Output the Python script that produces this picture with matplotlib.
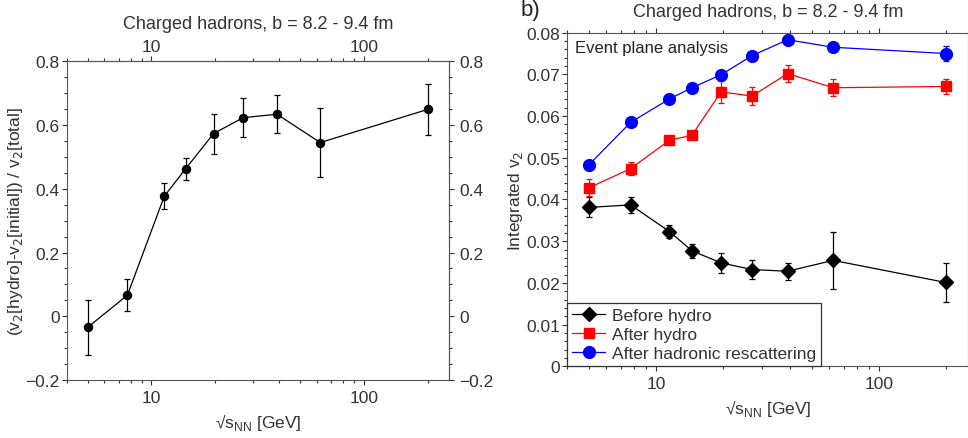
import matplotlib
matplotlib.use("Agg")
import matplotlib.pyplot as plt
from matplotlib.ticker import LogLocator, NullFormatter, MultipleLocator, FuncFormatter

plt.rcParams['font.family'] = ['Liberation Sans', 'DejaVu Sans']
plt.rcParams['text.color'] = '#333333'
plt.rcParams['axes.labelcolor'] = '#333333'
plt.rcParams['xtick.color'] = '#333333'
plt.rcParams['ytick.color'] = '#333333'
plt.rcParams['axes.edgecolor'] = '#555555'

# collision energies (GeV)
energies = [5, 7.7, 11.5, 14.5, 19.6, 27, 39, 62.4, 200]

# panel a: hydro fraction of v2
frac = [-0.035, 0.066, 0.377, 0.463, 0.573, 0.623, 0.634, 0.545, 0.649]
frac_err = [0.085, 0.050, 0.040, 0.034, 0.063, 0.061, 0.060, 0.108, 0.080]

# panel b: integrated v2
v2_before = [0.0381, 0.0387, 0.0323, 0.0277, 0.0248, 0.0232, 0.0228, 0.0254, 0.0201]
v2_before_err = [0.0024, 0.0020, 0.0016, 0.0017, 0.0024, 0.0023, 0.0020, 0.0069, 0.0047]
v2_hydro = [0.0428, 0.0474, 0.0542, 0.0554, 0.0658, 0.0648, 0.0702, 0.0668, 0.0671]
v2_hydro_err = [0.0020, 0.0015, 0.0008, 0.0008, 0.0026, 0.0022, 0.0020, 0.0020, 0.0018]
v2_resc = [0.0483, 0.0585, 0.0641, 0.0668, 0.0699, 0.0745, 0.0783, 0.0765, 0.0750]
v2_resc_err = [0.0006, 0.0006, 0.0006, 0.0006, 0.0006, 0.0006, 0.0006, 0.0006, 0.0018]

series_labels = ['Before hydro', 'After hydro', 'After hadronic rescattering']

title = 'Charged hadrons, b = 8.2 - 9.4 fm'
xlab = r'√s$_{\mathregular{NN}}$ [GeV]'
FS = 12.5

fig = plt.figure(figsize=(9.68, 4.39), dpi=100)
ax1 = fig.add_axes([0.0692, 0.1321, 0.3946, 0.726])
ax2 = fig.add_axes([0.586, 0.1633, 0.4143, 0.760])


def fmt_num(v, pos):
    if abs(v) < 1e-9:
        return '0'
    return ('%g' % v).replace('-', '\u2212')


def log_ticks(axis):
    axis.set_major_locator(LogLocator(base=10, numticks=10))
    axis.set_minor_locator(LogLocator(base=10, subs=range(2, 10), numticks=20))
    axis.set_minor_formatter(NullFormatter())
    axis.set_major_formatter(FuncFormatter(lambda v, p: '%d' % v))


def tick_len(ax, **kw):
    ax.tick_params(which='both', direction='out', labelsize=FS, **kw)
    ax.tick_params(which='major', length=3.8, width=0.8)
    ax.tick_params(which='minor', length=2.3, width=0.8)


# panel a
ax1.set_xscale('log')
ax1.set_xlim(4, 252)
log_ticks(ax1.xaxis)
ax1.errorbar(energies, frac, yerr=frac_err, color='black', marker='o',
             markersize=5.8, lw=0.9, elinewidth=0.9, capsize=2.3, capthick=0.9)
ax1.set_ylim(-0.2, 0.8)
ax1.yaxis.set_major_locator(MultipleLocator(0.2))
ax1.yaxis.set_minor_locator(MultipleLocator(0.05))
ax1.yaxis.set_major_formatter(FuncFormatter(fmt_num))
tick_len(ax1, top=False, right=False)
ax1.tick_params(axis='x', pad=3.5)
ax1.tick_params(axis='y', pad=1.5)

top1 = ax1.secondary_xaxis('top')
log_ticks(top1.xaxis)
tick_len(top1)
top1.tick_params(pad=1.2)

right1 = ax1.secondary_yaxis('right')
right1.yaxis.set_major_locator(MultipleLocator(0.2))
right1.yaxis.set_minor_locator(MultipleLocator(0.05))
right1.yaxis.set_major_formatter(FuncFormatter(fmt_num))
tick_len(right1)
right1.tick_params(pad=3.5)

ax1.set_xlabel(xlab, fontsize=FS, labelpad=4)
ax1.set_ylabel(r'(v$_2$[hydro]-v$_2$[initial]) / v$_2$[total]', fontsize=FS,
               labelpad=0.5)
ax1.set_title(title, fontsize=13, y=1.104, pad=0)

# panel b
ax2.set_xscale('log')
ax2.set_xlim(4, 252)
log_ticks(ax2.xaxis)
c1 = ax2.errorbar(energies, v2_before, yerr=v2_before_err, color='black', marker='D',
                  markersize=6.7, lw=0.9, elinewidth=0.9, capsize=2.3, capthick=0.9)
c2 = ax2.errorbar(energies, v2_hydro, yerr=v2_hydro_err, color='red', marker='s',
                  markersize=7, lw=0.9, elinewidth=0.9, capsize=2.3, capthick=0.9)
c3 = ax2.errorbar(energies, v2_resc, yerr=v2_resc_err, color='blue', marker='o',
                  markersize=8.5, lw=0.9, elinewidth=0.9, capsize=2.3, capthick=0.9)
ax2.set_ylim(0, 0.08)
ax2.yaxis.set_major_locator(MultipleLocator(0.01))
ax2.yaxis.set_minor_locator(MultipleLocator(0.002))
ax2.yaxis.set_major_formatter(FuncFormatter(fmt_num))
tick_len(ax2, top=True, right=True, labeltop=False, labelright=False)
ax2.tick_params(axis='x', pad=3.5)
ax2.tick_params(axis='y', pad=1.5)
ax2.set_xlabel(xlab, fontsize=FS, labelpad=4)
ax2.set_ylabel(r'Integrated v$_2$', fontsize=FS, labelpad=0.5)
ax2.set_title(title, fontsize=13, y=1.050, pad=0)
ax2.text(0.02, 0.955, 'Event plane analysis', transform=ax2.transAxes,
         fontsize=12, va='center', ha='left', color='#222222')
leg = ax2.legend([c1[0], c2[0], c3[0]], series_labels, loc='lower left',
                 borderaxespad=0, fancybox=False, fontsize=FS,
                 handlelength=1.85, handletextpad=0.4,
                 labelspacing=0.22, borderpad=0.3)
leg.get_frame().set_edgecolor('#333333')
leg.get_frame().set_linewidth(0.9)
leg.get_frame().set_alpha(1)

fig.text(0.538, 0.977, 'b)', fontsize=16, va='center', ha='left', color='#222222')

fig.savefig('out.png', dpi=100)
